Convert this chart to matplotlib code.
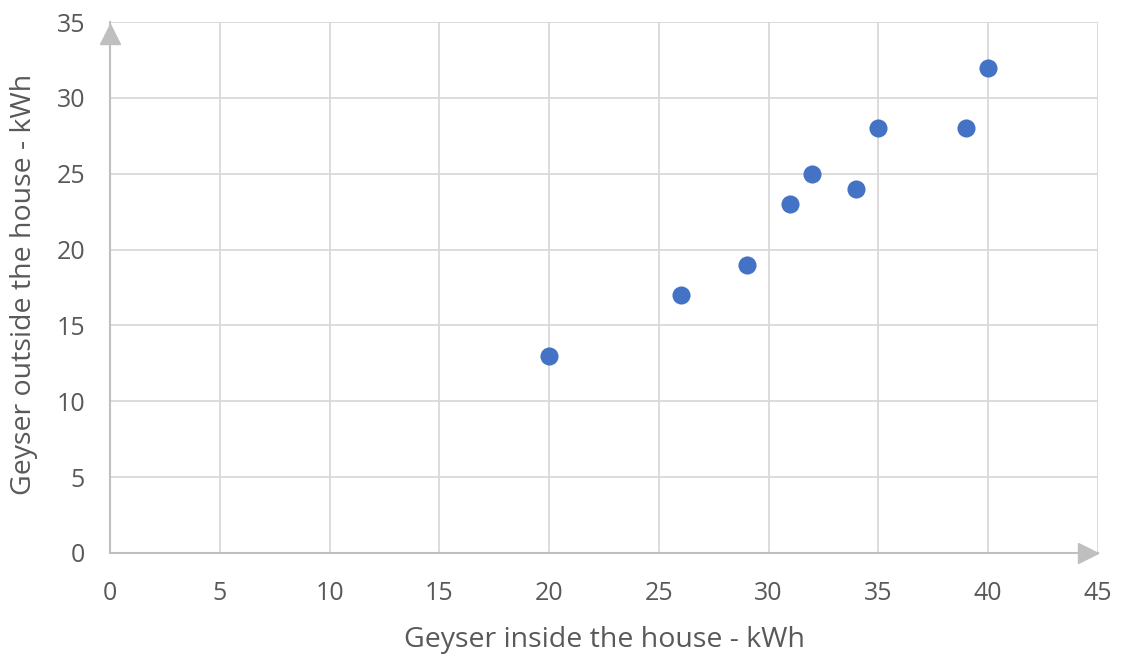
import matplotlib.pyplot as plt
import matplotlib.transforms as mtransforms

inside_kwh = [20, 26, 29, 31, 32, 34, 35, 39, 40]
outside_kwh = [13, 17, 19, 23, 25, 24, 28, 28, 32]
x_ticks = [0, 5, 10, 15, 20, 25, 30, 35, 40, 45]
y_ticks = [0, 5, 10, 15, 20, 25, 30, 35]

plt.rcParams['font.family'] = ['Open Sans', 'DejaVu Sans']
text_color = '#595959'
grid_color = '#D9D9D9'
axis_color = '#BFBFBF'

fig = plt.figure(figsize=(11.25, 6.57), dpi=100)
ax = fig.add_axes([0.0978, 0.1583, 0.878, 0.8082])

ax.scatter(inside_kwh, outside_kwh, s=170, color='#4472C4', zorder=3, linewidths=0)

ax.set_xlim(0, 45)
ax.set_ylim(0, 35)
ax.set_xticks(x_ticks)
ax.set_yticks(y_ticks)
ax.grid(True, color=grid_color, linewidth=1.3)
ax.set_axisbelow(True)
ax.tick_params(length=0, labelsize=18, colors=text_color)
ax.tick_params(axis='x', pad=20)
ax.tick_params(axis='y', pad=18)

for side in ['top', 'right']:
    ax.spines[side].set_visible(False)
for side in ['left', 'bottom']:
    ax.spines[side].set_color(axis_color)
    ax.spines[side].set_linewidth(1.5)

# arrow heads ending at the ends of the axes
x_arrow = mtransforms.offset_copy(ax.transAxes, fig=fig, x=-10, y=0, units='dots')
y_arrow = mtransforms.offset_copy(ax.transAxes, fig=fig, x=0, y=-12, units='dots')
ax.plot(1, 0, '>', color=axis_color, markersize=15, transform=x_arrow,
        clip_on=False, zorder=4)
ax.plot(0, 1, '^', color=axis_color, markersize=15, transform=y_arrow,
        clip_on=False, zorder=4)

ax.set_xlabel('Geyser inside the house - kWh', fontsize=20.5, color=text_color, va='center')
ax.set_ylabel('Geyser outside the house - kWh', fontsize=20.5, color=text_color,
              va='center', ha='center')
ax.xaxis.set_label_coords(0.501, -0.163)
ax.yaxis.set_label_coords(-0.087, 0.505)

fig.savefig('out.png', dpi=100)
